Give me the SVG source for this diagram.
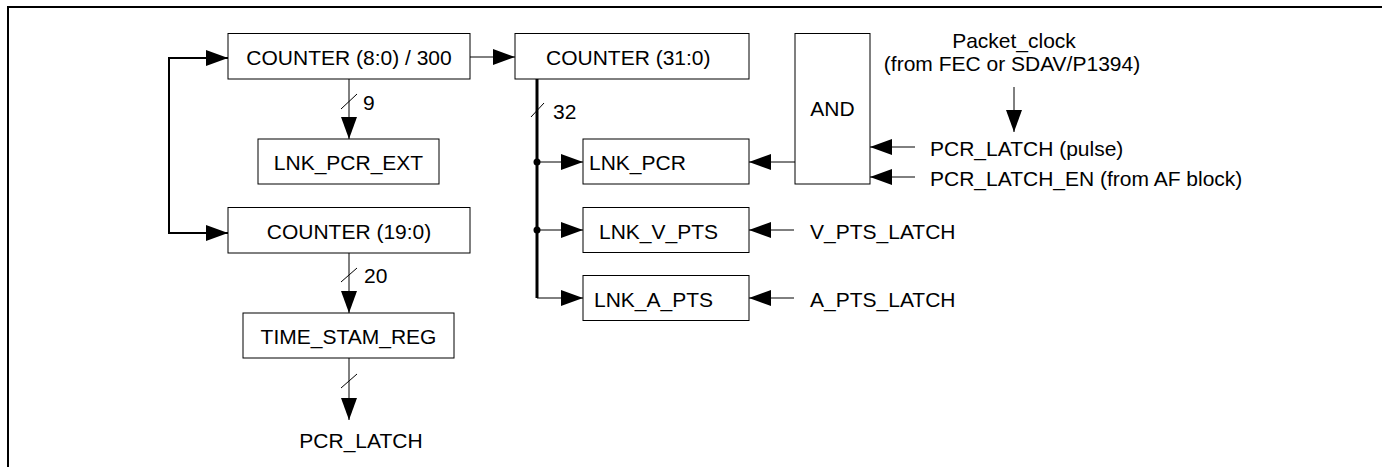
<svg xmlns="http://www.w3.org/2000/svg" width="1382" height="467" viewBox="0 0 1382 467">
<style>
.box{fill:#fff;stroke:#000;stroke-width:1}
.t{font-family:"Liberation Sans",Arial,sans-serif;font-size:21px;fill:#000}
.c{text-anchor:middle}
.ln{fill:none;stroke:#000;stroke-width:1}
.thick{fill:none;stroke:#000;stroke-width:2}
.bus{fill:none;stroke:#000;stroke-width:3}
</style>
<defs>
<marker id="ah" viewBox="0 0 22 16" refX="22" refY="8" markerWidth="22" markerHeight="16" markerUnits="userSpaceOnUse" orient="auto">
<path d="M0,0 L22,8 L0,16 z" fill="#000"/>
</marker>
</defs>
<rect width="1382" height="467" fill="#fff"/>
<path d="M8,467 V7 H1382" fill="none" stroke="#000" stroke-width="2"/>

<g id="connectors">
<path class="ln" d="M470,57 H515" marker-end="url(#ah)"/>
<path class="thick" d="M228,58 H169 V233 H228" marker-end="url(#ah)"/>
<path class="thick" d="M169,58 H228" marker-end="url(#ah)"/>
<path class="ln" d="M349,79 V139" marker-end="url(#ah)"/>
<path class="ln" d="M341,109 L357,94"/>
<path class="ln" d="M349,253 V313" marker-end="url(#ah)"/>
<path class="ln" d="M341,282 L357,268"/>
<path class="ln" d="M349,358 V420" marker-end="url(#ah)"/>
<path class="ln" d="M341,388 L357,374"/>
<path class="bus" d="M537,79 V298"/>
<path class="ln" d="M531,117 L544,103"/>
<path class="ln" d="M537,162 H583" marker-end="url(#ah)"/>
<path class="ln" d="M537,230 H583" marker-end="url(#ah)"/>
<path class="ln" d="M537,298 H583" marker-end="url(#ah)"/>
<circle cx="537" cy="162" r="3.5" fill="#000"/>
<circle cx="537" cy="230" r="3.5" fill="#000"/>
<path class="ln" d="M795,162 H749" marker-end="url(#ah)"/>
<path class="ln" d="M794,230 H749" marker-end="url(#ah)"/>
<path class="ln" d="M794,298 H749" marker-end="url(#ah)"/>
<path class="ln" d="M915,147 H870" marker-end="url(#ah)"/>
<path class="ln" d="M915,177 H870" marker-end="url(#ah)"/>
<path class="ln" d="M1014,87 V132" marker-end="url(#ah)"/>
</g>

<g id="counter8">
<rect class="box" x="228" y="33.5" width="242" height="45.5"/>
<text class="t c" x="349" y="65">COUNTER (8:0) / 300</text>
</g>
<g id="counter31">
<rect class="box" x="515" y="33.5" width="234" height="45.5"/>
<text class="t" x="546" y="65">COUNTER (31:0)</text>
</g>
<g id="lnk_pcr_ext">
<rect class="box" x="258" y="139" width="181" height="45"/>
<text class="t c" x="348.5" y="170">LNK_PCR_EXT</text>
</g>
<g id="counter19">
<rect class="box" x="228" y="207.5" width="242" height="45.5"/>
<text class="t c" x="349" y="238.5">COUNTER (19:0)</text>
</g>
<g id="time_stam_reg">
<rect class="box" x="243" y="313" width="211" height="45"/>
<text class="t c" x="348.5" y="344">TIME_STAM_REG</text>
</g>
<g id="pcr_latch_out">
<text class="t c" x="361" y="448">PCR_LATCH</text>
</g>
<g id="lnk_pcr">
<rect class="box" x="583" y="139" width="166" height="45"/>
<text class="t" x="589" y="170">LNK_PCR</text>
</g>
<g id="lnk_v_pts">
<rect class="box" x="583" y="207.5" width="166" height="45"/>
<text class="t" x="599" y="238.5">LNK_V_PTS</text>
</g>
<g id="lnk_a_pts">
<rect class="box" x="583" y="275.5" width="166" height="45"/>
<text class="t" x="594" y="306.5">LNK_A_PTS</text>
</g>
<g id="and">
<rect class="box" x="795" y="33.5" width="75" height="150.5"/>
<text class="t c" x="832.5" y="116">AND</text>
</g>
<g id="packet_clock">
<text class="t c" x="1014" y="48">Packet_clock</text>
<text class="t c" x="1012" y="71">(from FEC or SDAV/P1394)</text>
</g>
<g id="pcr_latch_pulse">
<text class="t" x="930" y="156">PCR_LATCH (pulse)</text>
</g>
<g id="pcr_latch_en">
<text class="t" x="930" y="186">PCR_LATCH_EN (from AF block)</text>
</g>
<g id="v_pts_latch">
<text class="t" x="810" y="238.5">V_PTS_LATCH</text>
</g>
<g id="a_pts_latch">
<text class="t" x="810" y="306.5">A_PTS_LATCH</text>
</g>
<g id="labels">
<text class="t" x="363" y="110">9</text>
<text class="t" x="364" y="283">20</text>
<text class="t" x="553" y="119">32</text>
</g>
</svg>
